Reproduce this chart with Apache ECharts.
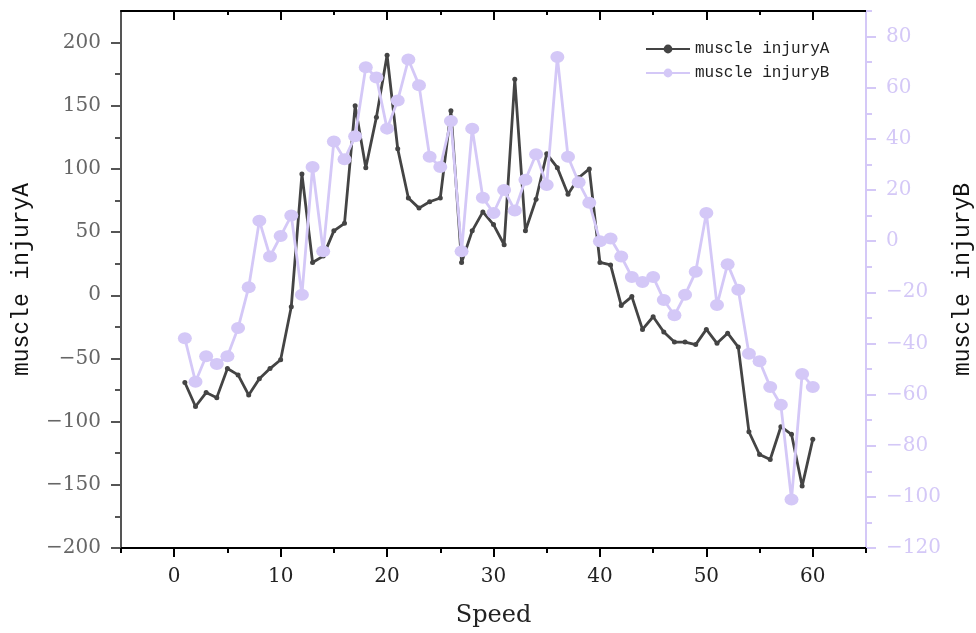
<!DOCTYPE html>
<html>
<head>
<meta charset="utf-8">
<title>muscle injury vs Speed</title>
<script src="https://cdn.jsdelivr.net/npm/echarts@6/dist/echarts.min.js"></script>
<style>
  html, body { margin: 0; padding: 0; background: #ffffff; }
  #chart { width: 976px; height: 633px; }
</style>
</head>
<body>
<div id="chart"></div>
<script>
// Speed values on the x axis
const speed = [
  1, 2, 3, 4, 5, 6, 7, 8, 9, 10,
  11, 12, 13, 14, 15, 16, 17, 18, 19, 20,
  21, 22, 23, 24, 25, 26, 27, 28, 29, 30,
  31, 32, 33, 34, 35, 36, 37, 38, 39, 40,
  41, 42, 43, 44, 45, 46, 47, 48, 49, 50,
  51, 52, 53, 54, 55, 56, 57, 58, 59, 60
];

// muscle injuryA (left axis)
const injuryA = [
  -69, -88, -77, -81, -58, -63, -79, -66, -58, -51,
  -9, 96, 26, 31, 51, 57, 150, 101, 141, 190,
  116, 77, 69, 74, 77, 146, 26, 51, 66, 56,
  40, 171, 51, 76, 112, 101, 80, 93, 100, 26,
  24, -8, -1, -27, -17, -29, -37, -37, -39, -27,
  -38, -30, -41, -108, -126, -130, -104, -110, -151, -114
];

// muscle injuryB (right axis)
const injuryB = [
  -38, -55, -45, -48, -45, -34, -18, 8, -6, 2,
  10, -21, 29, -4, 39, 32, 41, 68, 64, 44,
  55, 71, 61, 33, 29, 47, -4, 44, 17, 11,
  20, 12, 24, 34, 22, 72, 33, 23, 15, 0,
  1, -6, -14, -16, -14, -23, -29, -21, -12, 11,
  -25, -9, -19, -44, -47, -57, -64, -101, -52, -57
];

// Tick values
const xMajorTicks = [0, 10, 20, 30, 40, 50, 60];
const xMinorTicks = [-5, 5, 15, 25, 35, 45, 55, 65];
const yLeftMajorTicks = [-200, -150, -100, -50, 0, 50, 100, 150, 200];
const yLeftMinorTicks = [-175, -125, -75, -25, 25, 75, 125, 175];
const yRightMajorTicks = [-120, -100, -80, -60, -40, -20, 0, 20, 40, 60, 80];
const yRightMinorTicks = [-110, -90, -70, -50, -30, -10, 10, 30, 50, 70, 90];

const DARK = '#444444';
const LAVENDER = '#d4c8f7';
const SERIF = 'DejaVu Serif';
const MONO = 'Liberation Mono';

const minusFmt = v => String(v).replace('-', '\u2212');

const chart = echarts.init(document.getElementById('chart'), null, { renderer: 'canvas' });

const hiddenLabel = { show: false };
const noSplit = { show: false };

chart.setOption({
  animation: false,
  backgroundColor: '#ffffff',
  grid: { left: 121, right: 110, top: 11, bottom: 85, outerBoundsMode: 'none', containLabel: false },
  legend: {
    orient: 'vertical',
    left: 640,
    top: 36,
    itemWidth: 44,
    itemHeight: 11,
    itemGap: 8,
    textStyle: { fontFamily: MONO, fontSize: 16, color: '#222' },
    data: ['muscle injuryA', 'muscle injuryB']
  },
  xAxis: [
    {
      type: 'value', min: -5, max: 65, position: 'bottom',
      name: 'Speed', nameLocation: 'middle', nameGap: 56,
      nameTextStyle: { fontFamily: SERIF, fontSize: 24, color: '#222' },
      axisLine: { show: true, onZero: false, lineStyle: { color: '#000', width: 2 } },
      axisTick: { show: true, inside: false, length: 9, customValues: xMajorTicks, lineStyle: { color: '#000', width: 2 } },
      axisLabel: { show: true, customValues: xMajorTicks, margin: 19, fontFamily: SERIF, fontSize: 20, color: '#222', formatter: minusFmt },
      splitLine: noSplit
    },
    {
      type: 'value', min: -5, max: 65, position: 'bottom',
      axisLine: { show: false, onZero: false },
      axisTick: { show: true, inside: false, length: 5, customValues: xMinorTicks, lineStyle: { color: '#000', width: 2 } },
      axisLabel: hiddenLabel, splitLine: noSplit
    },
    {
      type: 'value', min: -5, max: 65, position: 'top',
      axisLine: { show: true, onZero: false, lineStyle: { color: '#000', width: 2 } },
      axisTick: { show: true, inside: true, length: 9, customValues: xMajorTicks, lineStyle: { color: '#000', width: 2 } },
      axisLabel: hiddenLabel, splitLine: noSplit
    },
    {
      type: 'value', min: -5, max: 65, position: 'top',
      axisLine: { show: false, onZero: false },
      axisTick: { show: true, inside: true, length: 4, customValues: xMinorTicks.slice(1, -1), lineStyle: { color: '#000', width: 2 } },
      axisLabel: hiddenLabel, splitLine: noSplit
    }
  ],
  yAxis: [
    {
      type: 'value', min: -200, max: 225, position: 'left',
      name: 'muscle injuryA', nameLocation: 'middle', nameGap: 88, nameRotate: 90,
      nameTextStyle: { fontFamily: MONO, fontSize: 23, color: '#111' },
      axisLine: { show: true, onZero: false, lineStyle: { color: '#555', width: 2 } },
      axisTick: { show: true, inside: false, length: 10, customValues: yLeftMajorTicks, lineStyle: { color: '#555', width: 2 } },
      axisLabel: { show: true, customValues: yLeftMajorTicks, margin: 20, fontFamily: SERIF, fontSize: 20, color: '#666', formatter: minusFmt },
      splitLine: noSplit
    },
    {
      type: 'value', min: -200, max: 225, position: 'left',
      axisLine: { show: false, onZero: false },
      axisTick: { show: true, inside: false, length: 6, customValues: yLeftMinorTicks, lineStyle: { color: '#555', width: 2 } },
      axisLabel: hiddenLabel, splitLine: noSplit
    },
    {
      type: 'value', min: -120, max: 90, position: 'right',
      name: 'muscle injuryB', nameLocation: 'middle', nameGap: 83, nameRotate: 90,
      nameTextStyle: { fontFamily: MONO, fontSize: 23, color: '#111' },
      axisLine: { show: true, onZero: false, lineStyle: { color: LAVENDER, width: 2 } },
      axisTick: { show: true, inside: false, length: 10, customValues: yRightMajorTicks, lineStyle: { color: LAVENDER, width: 2 } },
      axisLabel: { show: true, customValues: yRightMajorTicks, margin: 20, fontFamily: SERIF, fontSize: 20, color: LAVENDER, formatter: minusFmt },
      splitLine: noSplit
    },
    {
      type: 'value', min: -120, max: 90, position: 'right',
      axisLine: { show: false, onZero: false },
      axisTick: { show: true, inside: false, length: 6, customValues: yRightMinorTicks, lineStyle: { color: LAVENDER, width: 2 } },
      axisLabel: hiddenLabel, splitLine: noSplit
    }
  ],
  series: [
    {
      name: 'muscle injuryA',
      type: 'line',
      xAxisIndex: 0,
      yAxisIndex: 0,
      data: speed.map((s, i) => [s, injuryA[i]]),
      symbol: 'circle',
      symbolSize: 5,
      showAllSymbol: true,
      itemStyle: { color: DARK },
      lineStyle: { color: DARK, width: 2.8 },
      z: 2
    },
    {
      name: 'muscle injuryB',
      type: 'line',
      xAxisIndex: 0,
      yAxisIndex: 2,
      data: speed.map((s, i) => [s, injuryB[i]]),
      symbol: 'circle',
      symbolSize: [14, 12],
      showAllSymbol: true,
      itemStyle: { color: LAVENDER },
      lineStyle: { color: LAVENDER, width: 2.8 },
      z: 3
    }
  ]
});
</script>
</body>
</html>
